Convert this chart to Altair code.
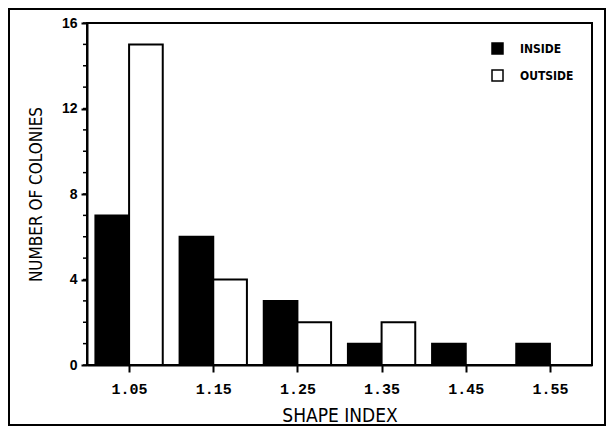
import altair as alt
import pandas as pd

centers = [1.05, 1.15, 1.25, 1.35, 1.45, 1.55]
inside = [7, 6, 3, 1, 1, 1]
outside = [15, 4, 2, 2, 0, 0]
groups = ["INSIDE", "OUTSIDE"]
bar_w = 0.04

rows = []
for c, a, b in zip(centers, inside, outside):
    rows.append({"group": "INSIDE", "x0": c - bar_w, "x1": c, "count": a, "base": 0})
    rows.append({"group": "OUTSIDE", "x0": c, "x1": c + bar_w, "count": b, "base": 0})
df = pd.DataFrame(rows)
df = df[df["count"] > 0]

minor = pd.DataFrame({"v": list(range(0, 17))})

NARROW = "Liberation Sans Narrow, DejaVu Sans Condensed, Liberation Sans"

yscale = alt.Scale(domain=[0, 16], nice=False)
yaxis = alt.Axis(values=[0, 4, 8, 12, 16], title="NUMBER OF COLONIES",
                 tickSize=6, labelPadding=4, labelFont="Liberation Sans",
                 labelFontSize=14, labelFontWeight="bold",
                 titleFont=NARROW, titleFontSize=17, titleFontWeight="normal",
                 titlePadding=16)

bars = alt.Chart(df).mark_rect(stroke="black", strokeWidth=2).encode(
    x=alt.X("x0:Q", scale=alt.Scale(domain=[1.0, 1.6], nice=False, zero=False),
            axis=alt.Axis(values=centers, format=".2f", title="SHAPE INDEX",
                          tickSize=7, labelPadding=9, labelFont="Liberation Mono",
                          labelFontSize=15, labelFontWeight="bold",
                          titleFont=NARROW, titleFontSize=19, titleFontWeight="normal",
                          titlePadding=10)),
    x2="x1:Q",
    y=alt.Y("count:Q", scale=yscale, axis=yaxis),
    y2="base:Q",
    color=alt.Color("group:N", scale=alt.Scale(domain=groups, range=["black", "white"]),
                    legend=alt.Legend(title=None, orient="none", legendX=404, legendY=19,
                                      symbolType="square", symbolSize=121,
                                      symbolStrokeColor="black", symbolStrokeWidth=1.5,
                                      labelFont=NARROW, labelFontSize=12,
                                      labelFontWeight="bold", labelOffset=16,
                                      rowPadding=10, padding=0)),
)

minor_ticks = alt.Chart(minor).mark_rule(color="black", strokeWidth=1.5).encode(
    y=alt.Y("v:Q", scale=yscale, axis=yaxis),
    x=alt.value(-4),
    x2=alt.value(0),
)

border = alt.Chart(pd.DataFrame({"a": [0]})).mark_rect(
    fill=None, stroke="black", strokeWidth=2
).encode(
    x=alt.value(-78), x2=alt.value(518), y=alt.value(-14), y2=alt.value(402)
)

chart = alt.layer(bars, minor_ticks, border).properties(
    width=505, height=342,
    autosize=alt.AutoSizeParams(type="none"),
    padding={"left": 79, "top": 15, "right": 14, "bottom": 61},
).configure_view(
    stroke="black", strokeWidth=2
).configure_axis(
    grid=False, domainColor="black", domainWidth=2, tickColor="black", tickWidth=2,
    labelColor="black", titleColor="black"
).configure_legend(
    labelColor="black"
)

chart.save("out.html", embed_options={"renderer": "svg", "actions": False})
